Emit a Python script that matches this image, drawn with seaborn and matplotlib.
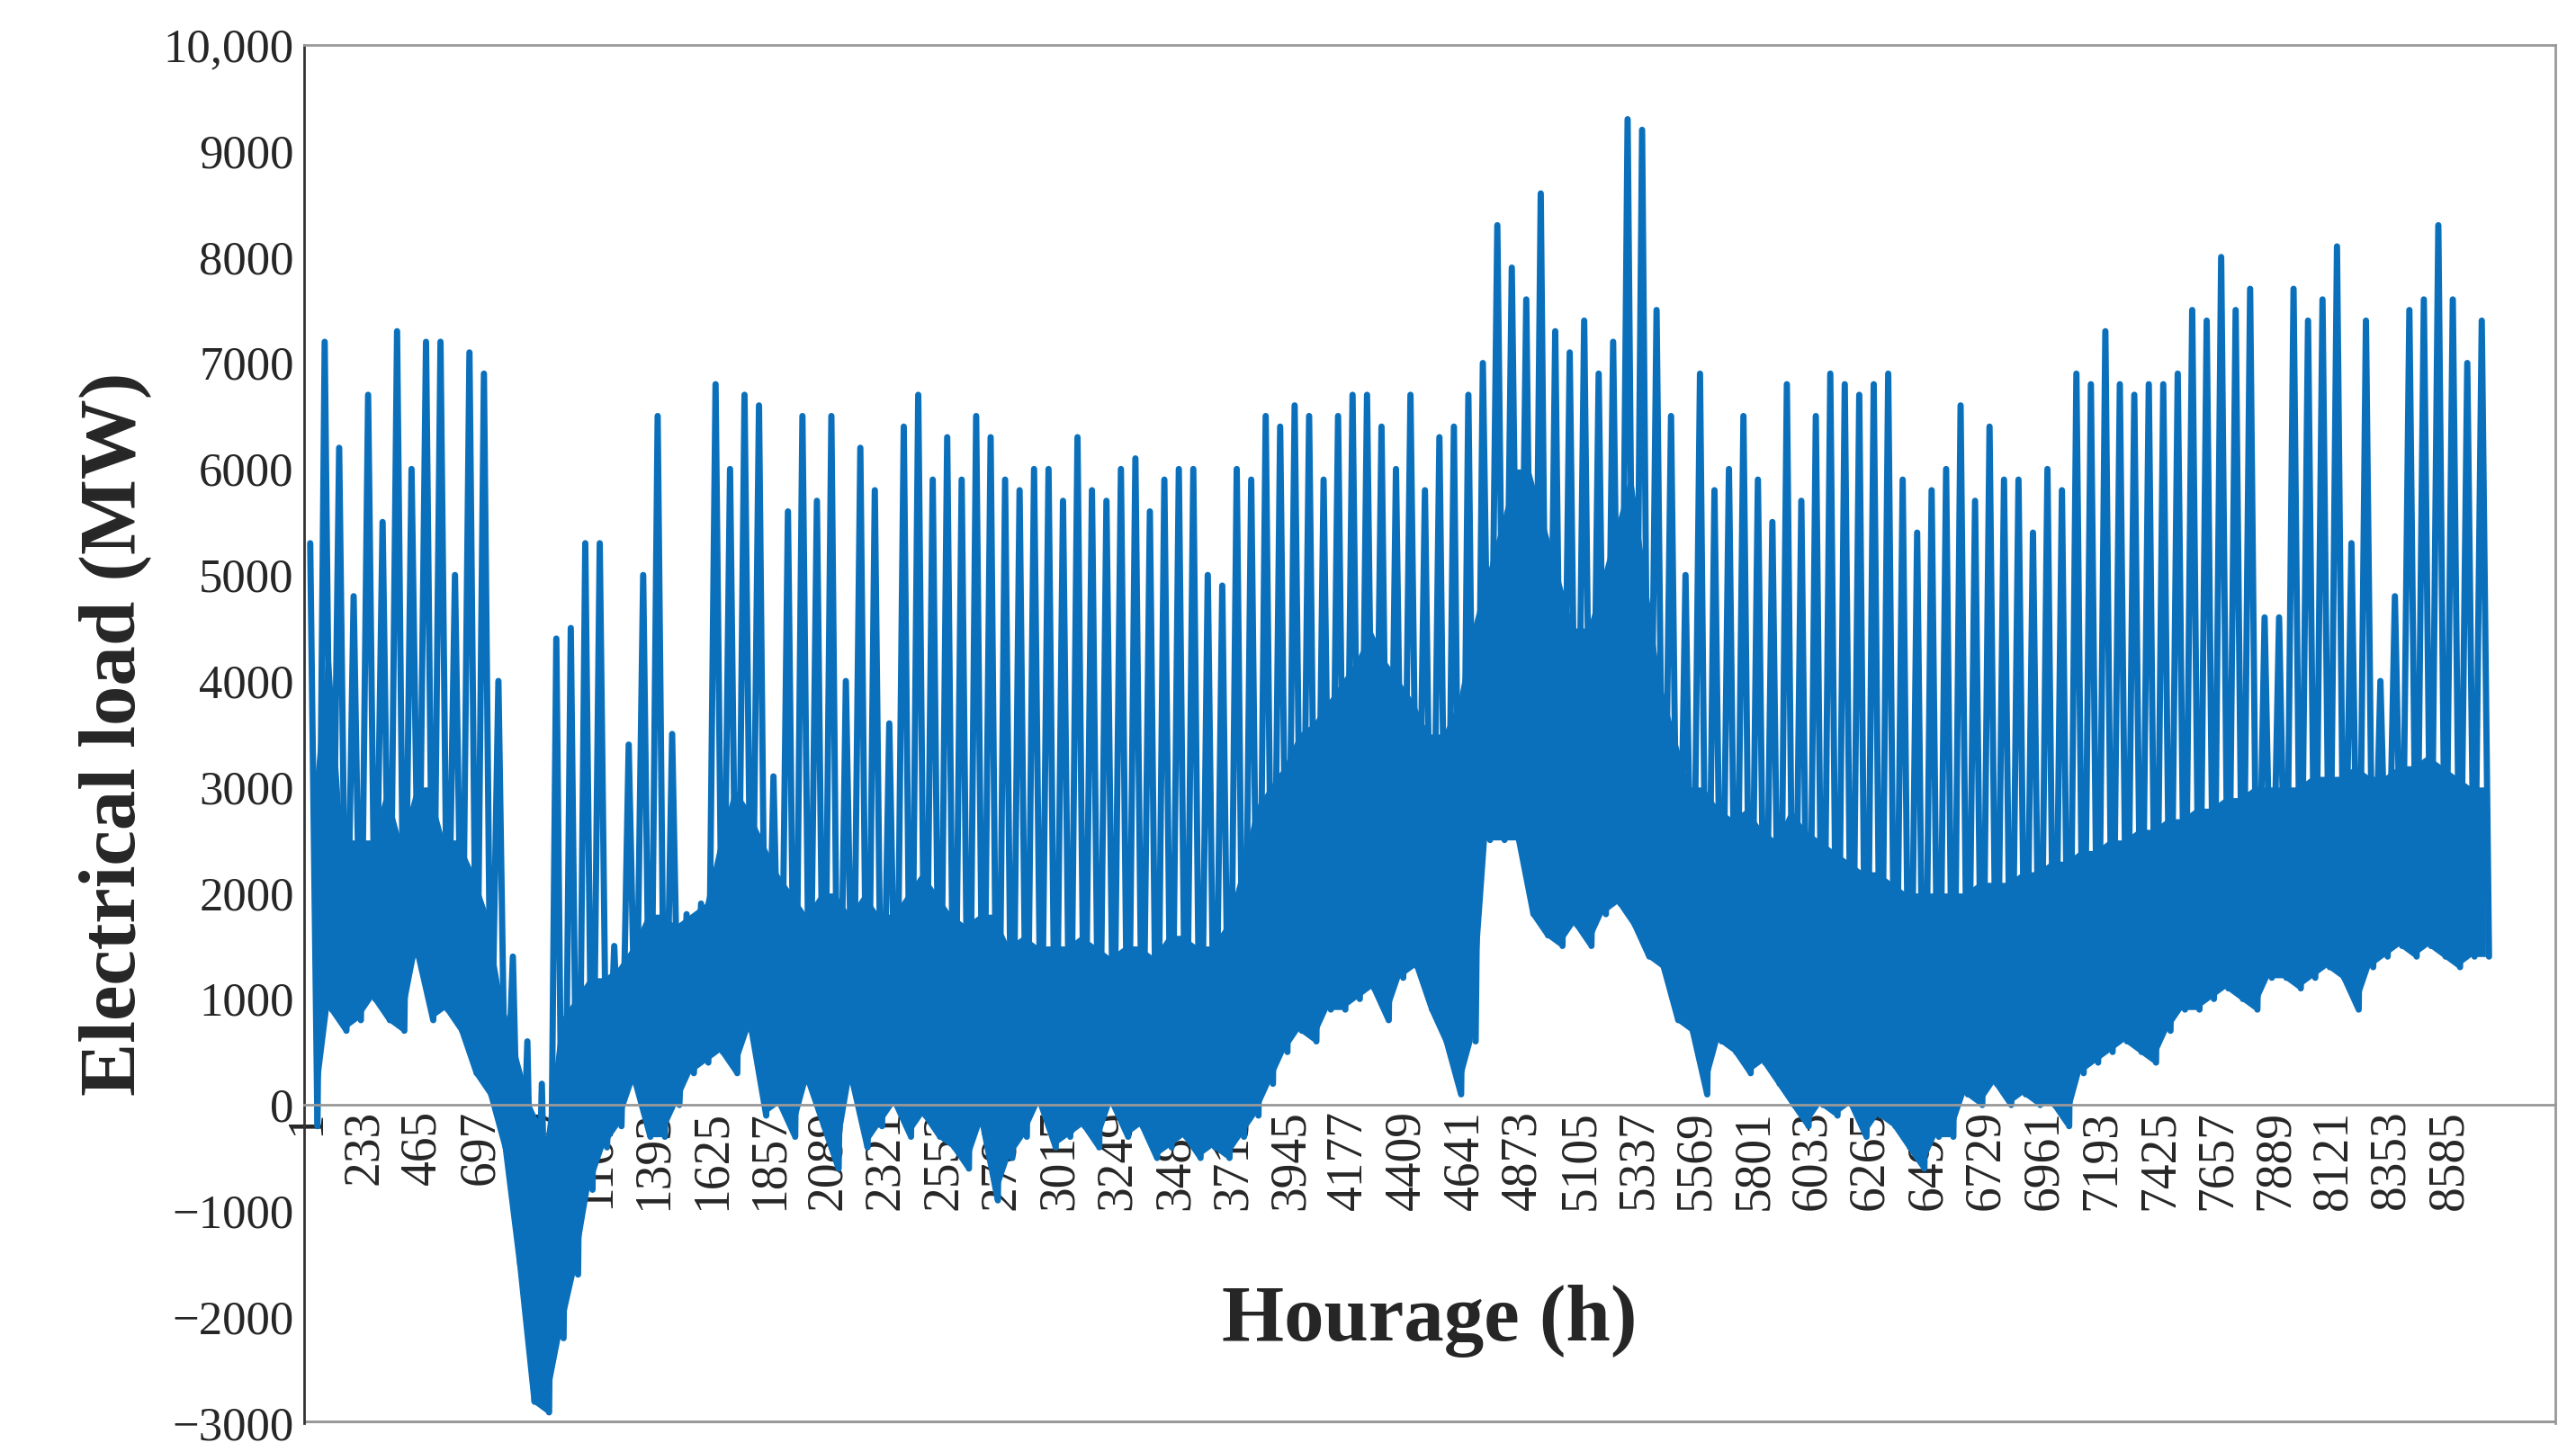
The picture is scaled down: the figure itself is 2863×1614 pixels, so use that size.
import numpy as np
import pandas as pd
import seaborn as sns
import matplotlib.pyplot as plt

# peak / trough load per 58 h segment (MW)
peaks = [5300, 7200, 6200, 4800, 6700, 5500, 7300, 6000, 7200, 7200, 5000, 7100,
         6900, 4000, 1400, 600, 200, 4400, 4500, 5300, 5300, 1500, 3400, 5000,
         6500, 3500, 1800, 1900, 6800, 6000, 6700, 6600, 3100, 5600, 6500, 5700,
         6500, 4000, 6200, 5800, 3600, 6400, 6700, 5900, 6300, 5900, 6500, 6300,
         5900, 5800, 6000, 6000, 5700, 6300, 5800, 5700, 6000, 6100, 5600, 5900,
         6000, 6000, 5000, 4900, 6000, 5900, 6500, 6400, 6600, 6500, 5900, 6500,
         6700, 6700, 6400, 6000, 6700, 5800, 6300, 6400, 6700, 7000, 8300, 7900,
         7600, 8600, 7300, 7100, 7400, 6900, 7200, 9300, 9200, 7500, 6500, 5000,
         6900, 5800, 6000, 6500, 5900, 5500, 6800, 5700, 6500, 6900, 6800, 6700,
         6800, 6900, 5900, 5400, 5800, 6000, 6600, 5700, 6400, 5900, 5900, 5400,
         6000, 5800, 6900, 6800, 7300, 6800, 6700, 6800, 6800, 6900, 7500, 7400,
         8000, 7500, 7700, 4600, 4600, 7700, 7400, 7600, 8100, 5300, 7400, 4000,
         4800, 7500, 7600, 8300, 7600, 7000, 7400]
troughs = [-200, 900, 700, 800, 1000, 800, 700, 1400, 800, 900, 700, 300,
           100, -400, -1500, -2800, -2900, -2200, -1600, -800, -400, -200, 200, -300,
           -300, 0, 300, 400, 500, 300, 700, -100, 0, -300, 200, -200,
           -600, 200, -400, -200, 0, -300, -100, -300, -400, -600, -200, -900,
           -500, -300, 0, -400, -300, -200, -400, 0, -300, -200, -500, -400,
           -300, -500, -400, -500, -300, -100, 200, 500, 700, 600, 900, 900,
           1000, 1100, 800, 1200, 1300, 900, 600, 100, 600, 2500, 2500, 2500,
           1800, 1600, 1500, 1700, 1500, 1800, 1900, 1700, 1400, 1300, 800, 700,
           100, 600, 500, 300, 400, 200, 0, -200, 0, -100, 0, -300,
           -100, -200, -400, -600, -300, -300, 100, 0, 200, 0, 100, 0,
           0, -200, 300, 400, 500, 600, 500, 400, 700, 900, 900, 1000,
           1100, 1000, 900, 1200, 1200, 1100, 1200, 1300, 1200, 900, 1300, 1400,
           1500, 1400, 1500, 1400, 1300, 1400, 1400]
# top of the solid (densely overdrawn) band per segment
band_top = [3000, 4500, 2500, 2500, 2500, 3000, 2500, 3000, 3000, 2500, 2500, 2200,
            1800, 1000, 500, 0, -300, 800, 1000, 1200, 1200, 1300, 1500, 1800,
            1800, 1700, 1800, 1900, 2500, 3000, 2800, 2500, 2200, 2000, 1800, 2000,
            2000, 1800, 2000, 1800, 1800, 2000, 2200, 2000, 1800, 1700, 1800, 1800,
            1500, 1600, 1500, 1500, 1500, 1600, 1500, 1400, 1500, 1500, 1400, 1600,
            1600, 1500, 1500, 1700, 2200, 2800, 3000, 3200, 3500, 3600, 3800, 4000,
            4200, 4500, 4200, 4000, 3800, 3500, 3500, 3800, 4500, 5000, 5500, 6000,
            6000, 5500, 5000, 4500, 4500, 5000, 5500, 6000, 5000, 4000, 3500, 3000,
            3000, 2800, 2700, 2800, 2600, 2500, 2800, 2600, 2500, 2400, 2300, 2200,
            2200, 2100, 2000, 2000, 2000, 2000, 2000, 2100, 2100, 2100, 2200, 2200,
            2300, 2300, 2400, 2400, 2500, 2500, 2600, 2600, 2700, 2700, 2800, 2800,
            2900, 2900, 3000, 3000, 3000, 3000, 3100, 3100, 3100, 3200, 3100, 3100,
            3200, 3200, 3300, 3200, 3100, 3000, 3000]

tick_hours = [1, 233, 465, 697, 929, 1161, 1393, 1625, 1857, 2089, 2321, 2553, 2785,
              3017, 3249, 3481, 3713, 3945, 4177, 4409, 4641, 4873, 5105, 5337,
              5569, 5801, 6033, 6265, 6497, 6729, 6961, 7193, 7425, 7657, 7889,
              8121, 8353, 8585]
y_ticks = list(range(-3000, 10001, 1000))
y_labels = [str(v).replace("-", "\u2212") for v in y_ticks[:-1]] + ["10,000"]

seg_start = np.arange(1, 8760, 58)[:len(peaks)]
hours = np.concatenate([seg_start + 14, seg_start + 43])
loads = np.concatenate([peaks, troughs])
df = pd.DataFrame({"hour": hours, "load": loads}).sort_values("hour")
band = pd.DataFrame({"hour": seg_start + 29, "low": troughs, "top": band_top})

sns.set_style("white")
plt.rcParams["font.family"] = ["Liberation Serif", "DejaVu Serif"]
blue = "#0b70bb"

fig = plt.figure(figsize=(28.63, 16.14), dpi=100)
ax = fig.add_axes([0.118, 0.02, 0.874, 0.949])
ax.fill_between(band["hour"], band["low"], np.maximum(band["top"], band["low"]),
                color=blue, linewidth=0)
sns.lineplot(data=df, x="hour", y="load", color=blue, linewidth=5, ax=ax)

ax.set_xlim(-10, 8760 + 250)
ax.set_ylim(-3000, 10000)
ax.spines["bottom"].set_position(("data", 0))
for s in ax.spines.values():
    s.set_color("#999999")
    s.set_linewidth(2)
ax.spines["left"].set_color("#333333")
ax.axhline(-3000, color="#999999", linewidth=5)

ax.set_xticks(tick_hours)
ax.set_xticklabels([str(h) for h in tick_hours], rotation=90)
ax.set_yticks(y_ticks)
ax.set_yticklabels(y_labels)
ax.tick_params(axis="x", direction="in", length=12, width=2, labelsize=40, pad=4, color="#333333")
ax.tick_params(axis="y", direction="in", length=12, width=2, labelsize=38, pad=8, color="#333333")

ax.set_xlabel("Hourage (h)", fontsize=64, fontweight="bold", labelpad=60)
ax.set_ylabel("Electrical load (MW)", fontsize=64, fontweight="bold", labelpad=10)

fig.savefig("out.png", dpi=100)
